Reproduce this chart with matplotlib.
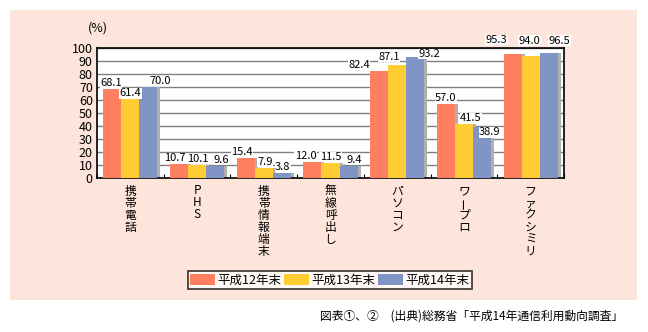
import matplotlib.pyplot as plt
import numpy as np
from matplotlib.patches import Rectangle

plt.rcParams['font.family'] = ['Noto Sans CJK JP', 'DejaVu Sans']

categories = ["携帯電話", "PHS", "携帯情報端末", "無線呼出し", "パソコン", "ワープロ", "ファクシミリ"]
series_names = ["平成12年末", "平成13年末", "平成14年末"]
h12 = [68.1, 10.7, 15.4, 12.0, 82.4, 57.0, 95.3]
h13 = [61.4, 10.1, 7.9, 11.5, 87.1, 41.5, 94.0]
h14 = [70.0, 9.6, 3.8, 9.4, 93.2, 38.9, 96.5]
yticks = list(range(0, 101, 10))

colors = ["#FF8060", "#FFCC33", "#8095C5"]
panel_bg = "#FDE5DB"

# label nudges in pixels (dx, dy) so crowded value labels don't pile up
nudges = [
    [(-1, 0), (0, -1), (12, 0)],
    [(-4, 0), (1, 0), (6, 0)],
    [(-4, 0), (1, 0), (1, 0)],
    [(-7, 0), (0, 0), (6, 0)],
    [(-20, 0), (-8, 2), (14, -3)],
    [(0, 0), (7, 0), (8, -11)],
    [(-16, 8), (-1, 9), (11, 6)],
]

fig = plt.figure(figsize=(6.48, 3.32), dpi=100)
fig.patch.set_facecolor("white")

# pink backdrop panel
fig.patches.append(Rectangle((10 / 648, 1 - 300 / 332), 627 / 648, 290 / 332,
                             transform=fig.transFigure, facecolor=panel_bg,
                             edgecolor="none", zorder=-5))

ax = fig.add_axes([97 / 648, 1 - 178 / 332, 467 / 648, 130 / 332])
ax.set_zorder(2)
ax.set_facecolor("white")

px = 72 / 100  # points per pixel
x = np.arange(len(categories))
w = 0.27
shadow = 0.045
for i, (vals, c) in enumerate(zip([h12, h13, h14], colors)):
    pos = x + (i - 1) * w
    ax.bar(pos + shadow, vals, w, color="#B0B0B0", zorder=2)
    ax.bar(pos, vals, w, color=c, zorder=3, label=series_names[i])
    for g, (p, v) in enumerate(zip(pos, vals)):
        dx, dy = nudges[g][i]
        ax.annotate(f"{v:.1f}", (p, v), xytext=(dx * px, (dy + 1) * px),
                    textcoords="offset points", ha="center", va="bottom",
                    fontsize=8, zorder=5, annotation_clip=False,
                    bbox=dict(facecolor="white", edgecolor="none", pad=0.2))

ax.set_xlim(-0.5, len(categories) - 0.5)
ax.set_ylim(0, 100)
ax.set_yticks(yticks)
ax.set_yticklabels([str(t) for t in yticks], fontsize=9)
ax.yaxis.grid(True, color="#808080", linewidth=1)
ax.set_axisbelow(True)
ax.tick_params(axis="y", length=0, pad=3)
ax.set_xticks(np.arange(len(categories) + 1) - 0.5)
ax.set_xticklabels([])
ax.tick_params(axis="x", direction="in", length=3, color="black")
for s in ax.spines.values():
    s.set_linewidth(1.2)
    s.set_color("black")

fig.text(98 / 648, 1 - 28 / 332, "(%)", fontsize=9, ha="center", va="center")

# vertical category labels, one character per line
for xi, label in zip(x, categories):
    for k, ch in enumerate(label):
        rot = 90 if ch == "ー" else 0
        ax.annotate(ch, (xi, 0), xycoords=("data", "axes fraction"),
                    xytext=(0, -(13 + 12 * k) * px), textcoords="offset points",
                    ha="center", va="center", fontsize=8.5, rotation=rot,
                    annotation_clip=False)

leg = fig.legend(loc="center", bbox_to_anchor=(330 / 648, 1 - 280 / 332), ncol=3,
                 fontsize=9, frameon=True, fancybox=False, edgecolor="black",
                 handlelength=2.0, handleheight=1.0, handletextpad=0.2,
                 columnspacing=0.2, borderpad=0.2, borderaxespad=0)
leg.get_frame().set_linewidth(1.2)

fig.text(623 / 648, 1 - 316 / 332, "図表①、②　(出典)総務省「平成14年通信利用動向調査」",
         fontsize=8.5, ha="right", va="center")

fig.savefig("out.png", dpi=100, facecolor="white")
